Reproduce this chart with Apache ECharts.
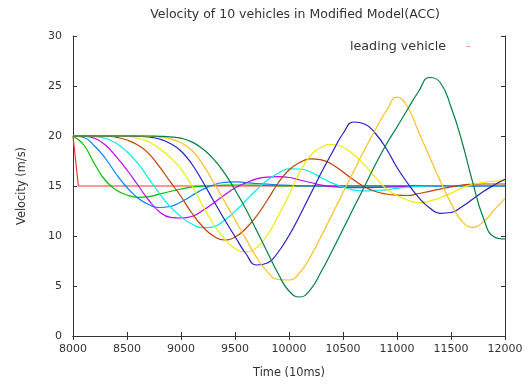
<!DOCTYPE html>
<html>
<head>
<meta charset="utf-8">
<script src="https://cdn.jsdelivr.net/npm/echarts@6/dist/echarts.min.js"></script>
<style>
html,body{margin:0;padding:0;background:#fff;}
#chart{width:528px;height:387px;}
</style>
</head>
<body>
<div id="chart"></div>
<script>
// ---- data ----
var titleText = 'Velocity of 10 vehicles in Modified Model(ACC)';
var xName = 'Time (10ms)';
var yName = 'Velocity (m/s)';
var leadName = 'leading vehicle';

var times = [8000,8100,8200,8300,8400,8500,8600,8700,8800,8900,
             9000,9100,9200,9300,9400,9500,9600,9700,9800,9900,
             10000,10100,10200,10300,10400,10500,10600,10700,10800,10900,
             11000,11100,11200,11300,11400,11500,11600,11700,11800,11900,12000];

var leadTimes = [8000, 8050, 12000];
var leadValues = [20, 15, 15];

var v1 = [20,19.1,17.2,15.55,14.6,14.1,13.87,13.93,14.19,14.45,
          14.7,14.88,14.98,15.05,15.08,15.1,15.1,15.08,15.05,15.03,
          15,15,15,15,15,15,15,15,15,15,
          15,15,15,15,15,15,15,15,15,15,15];
var v2 = [20,19.85,19.0,17.75,16.2,14.85,13.8,13.15,12.85,12.95,
          13.4,14.03,14.65,15.1,15.37,15.42,15.33,15.25,15.18,15.12,
          15.07,15.03,15,15,15,15,15,15,15,15,
          15,15,15,15,15,15,15,15,15,15,15];
var v3 = [20,19.97,19.77,19.1,17.93,16.6,15.1,13.6,12.43,11.87,
          11.8,11.95,12.55,13.28,14.07,14.79,15.31,15.72,15.88,15.93,
          15.85,15.6,15.35,15.08,14.93,14.86,14.83,14.83,14.85,14.88,
          14.92,14.96,15,15,15,15,15,15,15,15,15];
var v4 = [20,20,19.97,19.77,19.27,18.43,17.27,15.77,14.27,12.93,
          11.93,11.2,10.83,10.92,11.55,12.46,13.55,14.63,15.6,16.28,
          16.72,16.7,16.4,15.83,15.29,14.89,14.59,14.51,14.56,14.62,
          14.77,14.88,14.95,15,15,15,15,15,15,15,15];
var v5 = [20,20,20,20,19.87,19.6,19.1,18.27,16.93,15.43,
          13.95,12.3,10.95,10.0,9.6,9.9,10.75,12.0,13.6,15.3,
          16.6,17.35,17.72,17.62,17.15,16.4,15.6,14.92,14.45,14.2,
          14.08,14.05,14.25,14.47,14.69,14.91,15.1,15.17,15.2,15.2,15.2];
var v6 = [20,20,20,20,20,19.95,19.77,19.43,18.75,17.85,
          16.7,15.05,13.05,11.2,9.75,8.75,8.42,8.85,10.1,12.0,
          14.1,16.4,18.05,18.87,19.15,18.88,18.15,17.08,15.87,14.74,
          14.05,13.58,13.32,13.49,13.83,14.28,14.81,15.16,15.36,15.47,15.53];
var v7 = [20,20,20,20,20,20,19.97,19.9,19.7,19.25,
          18.5,17.2,15.45,13.55,11.7,9.95,8.25,7.1,7.3,8.4,
          10.05,12.05,14.2,16.35,18.35,20.25,21.4,21.2,20.25,18.75,
          16.85,15.25,13.86,12.83,12.27,12.35,12.93,13.67,14.44,15.1,15.67];
var v8 = [20,20,20,20,20,20,20,19.97,19.9,19.72,
          19.32,18.57,17.19,15.4,13.51,11.62,9.72,7.85,6.42,5.65,
          5.6,6.35,7.96,10.02,12.17,14.34,16.5,18.65,20.65,22.5,
          23.88,22.85,20.4,17.96,15.53,13.29,11.5,10.87,11.42,12.62,13.77];
var v9 = [20,20,20,20,20,20,20,20,19.97,19.92,
          19.78,19.41,18.73,17.72,16.34,14.62,12.7,10.55,8.38,6.22,
          4.5,3.9,4.67,6.47,8.52,10.67,12.84,14.98,17.15,19.15,
          20.9,22.7,24.45,25.85,25.35,22.9,19.5,15.4,11.8,9.9,9.7];

var followers = [v1, v2, v3, v4, v5, v6, v7, v8, v9];
var followerColors = ['#00c000','#0080ff','#c000ff','#00eeee','#c04000',
                      '#eeee00','#2020c0','#ffc020','#008040'];

// ---- build chart ----
function pairs(xs, ys){ return xs.map(function(x,i){ return [x, ys[i]]; }); }

var FONT = 'DejaVu Sans';
var series = [{
  name: leadName,
  type: 'line',
  data: pairs(leadTimes, leadValues),
  showSymbol: false,
  symbol: 'none',
  lineStyle: {color: '#ff3030', width: 1.2},
  itemStyle: {color: '#ff8080'},
  z: 1
}];
followers.forEach(function(vals, i){
  series.push({
    name: 'vehicle' + (i + 2),
    type: 'line',
    data: pairs(times, vals),
    smooth: 0.5,
    showSymbol: false,
    symbol: 'none',
    lineStyle: {color: followerColors[i], width: 1.2},
    z: 2 + i
  });
});

var axisLine = {show: true, lineStyle: {color: '#333', width: 1}};
var tickIn = {show: true, inside: true, length: 4, lineStyle: {color: '#333'}};
var plain = function(v){ return String(v); };
var labelStyle = {fontFamily: FONT, fontSize: 11, color: '#333', formatter: plain};

var chart = echarts.init(document.getElementById('chart'), null, {renderer: 'canvas'});
chart.setOption({
  animation: false,
  backgroundColor: '#fff',
  title: {
    text: titleText, left: 290, top: 3, textAlign: 'center',
    textStyle: {fontFamily: FONT, fontSize: 12.5, fontWeight: 'normal', color: '#333'}
  },
  legend: {
    data: [leadName],
    right: 58, top: 40, padding: 0,
    align: 'right',
    icon: 'rect', itemWidth: 3, itemHeight: 1,
    itemStyle: {color: '#ff9090'},
    textStyle: {fontFamily: FONT, fontSize: 12.7, color: '#333', padding: [0, 16, 0, 0]},
    selectedMode: false
  },
  grid: {left: 73, top: 36, width: 432, height: 300, containLabel: false},
  xAxis: [{
    type: 'value', position: 'bottom', min: 8000, max: 12000, interval: 500,
    axisLine: axisLine, axisTick: tickIn, splitLine: {show: false},
    axisLabel: Object.assign({margin: 8}, labelStyle),
    name: xName, nameLocation: 'middle', nameGap: 32,
    nameTextStyle: {fontFamily: FONT, fontSize: 11.4, color: '#333'}
  }, {
    type: 'value', position: 'top', min: 8000, max: 12000, interval: 500,
    axisLine: axisLine, axisTick: tickIn, splitLine: {show: false},
    axisLabel: {show: false}
  }],
  yAxis: [{
    type: 'value', position: 'left', min: 0, max: 30, interval: 5,
    axisLine: axisLine, axisTick: tickIn, splitLine: {show: false},
    axisLabel: Object.assign({margin: 11}, labelStyle),
    name: yName, nameLocation: 'middle', nameGap: 45, nameRotate: 90,
    nameTextStyle: {fontFamily: FONT, fontSize: 11.4, color: '#333'}
  }, {
    type: 'value', position: 'right', min: 0, max: 30, interval: 5,
    axisLine: axisLine, axisTick: tickIn, splitLine: {show: false},
    axisLabel: {show: false}
  }],
  series: series
});
</script>
</body>
</html>
